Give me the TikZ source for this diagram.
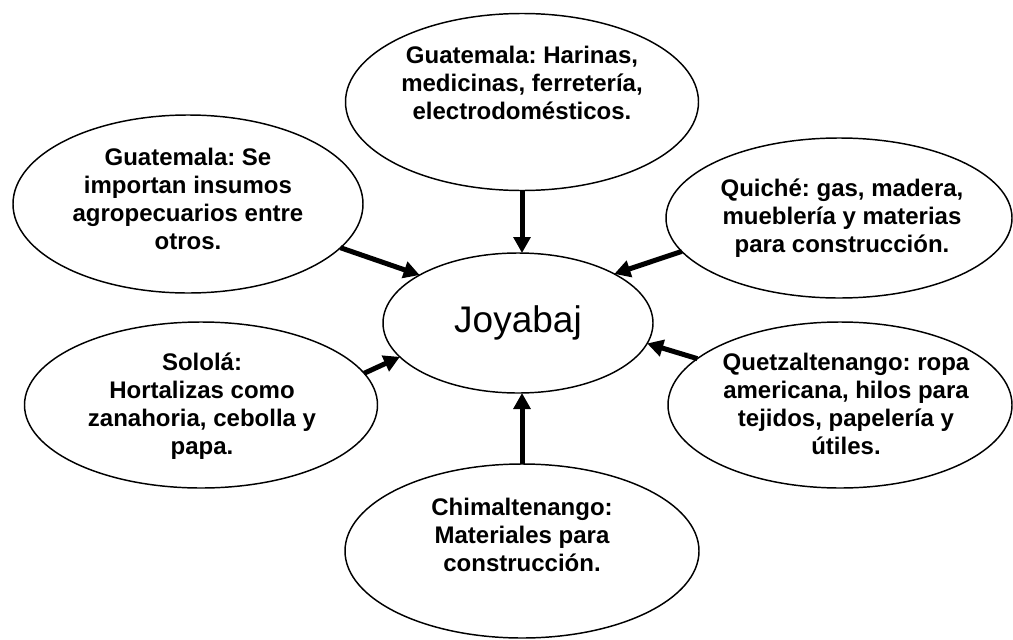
\documentclass[tikz,border=0pt]{standalone}
\usepackage{fontspec}
\setmainfont{Liberation Sans}
\usetikzlibrary{arrows.meta,shapes.geometric}
\frenchspacing
\begin{document}
\begin{tikzpicture}[x=0.75pt,y=-0.75pt,
  bub/.style={draw=black, line width=1.1pt, ellipse, inner sep=0pt, outer sep=0pt, fill=white},
  lbl/.style={anchor=north, align=center, inner sep=0pt, font=\fontsize{18}{21}\selectfont\bfseries},
  arr/.style={line width=3.75pt, -{Triangle[length=12pt,width=12.5pt]}}]
\useasboundingbox (0,0) rectangle (1013,639);
\fill[white] (0,0) rectangle (1013,639);
% bubbles
\node[bub, minimum width=262.5pt, minimum height=133.5pt] (tl) at (188,204) {};
\node[bub, minimum width=264.75pt, minimum height=132.75pt] (top) at (522,102) {};
\node[bub, minimum width=259.5pt, minimum height=120pt] (qu) at (839,218) {};
\node[bub, minimum width=258pt, minimum height=124.5pt] (qz) at (840,405) {};
\node[bub, minimum width=264.75pt, minimum height=124.5pt] (so) at (201,405) {};
\node[bub, minimum width=265.5pt, minimum height=130.5pt] (bot) at (522,551) {};
\node[bub, minimum width=202.5pt, minimum height=105pt, font=\fontsize{27.75}{33}\selectfont] (c) at (518,323) {Joyabaj};
% labels
\node[lbl] (tlt) at (188,146) {\strut Guatemala: Se\\importan insumos\\agropecuarios entre\\otros.};
\node[lbl] (topt) at (522,44) {\strut Guatemala: Harinas,\\medicinas, ferretería,\\electrodomésticos.};
\node[lbl] (qut) at (842,177) {\strut Quiché: gas, madera,\\mueblería y materias\\para construcción.};
\node[lbl] (qzt) at (846,351) {\strut Quetzaltenango: ropa\\americana, hilos para\\tejidos, papelería y\\útiles.};
\node[lbl] (sot) at (202,351) {\strut Sololá:\\Hortalizas como\\zanahoria, cebolla y\\papa.};
\node[lbl] (bott) at (522,496) {\strut Chimaltenango:\\Materiales para\\construcción.};
% arrows
\draw[arr] (tl.-16.8) -- (c.154.4);
\draw[arr] (top.south) -- (top.south |- c.north);
\draw[arr] (qu.192.7) -- (c.27.3);
\draw[arr] (qz.162.2) -- (c.-9.6);
\draw[arr] (so.11.7) -- (c.196.7);
\draw[arr] (bot.north) -- (bot.north |- c.south);
\end{tikzpicture}
\end{document}
